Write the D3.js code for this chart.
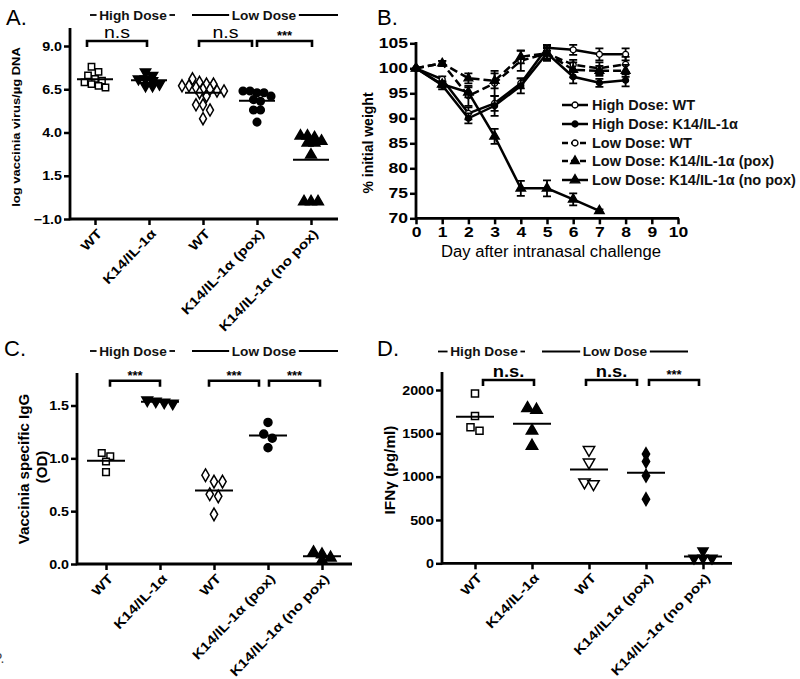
<!DOCTYPE html>
<html><head><meta charset="utf-8">
<script src="https://cdn.jsdelivr.net/npm/d3@7"></script>
<style>
body{margin:0;background:#fff;}
svg{font-family:"Liberation Sans",Arial,Helvetica,sans-serif;}
</style></head><body>
<svg id="c" width="800" height="679"></svg>
<script>
// ---------------- DATA ----------------
const catLabelsA = ["WT","K14/IL-1α","WT","K14/IL-1α (pox)","K14/IL-1α (no pox)"];
const catLabelsC = ["WT","K14/IL-1α","WT","K14/IL-1α (pox)","K14/IL-1α (no pox)"];
const catLabelsD = ["WT","K14/IL-1α","WT","K14/IL1α (pox)","K14/IL-1α (no pox)"];

// Panel A: log vaccinia virus/µg DNA
const aHighWT   = [7.8, 7.5, 7.3, 7.1, 7.0, 6.9, 6.8, 6.7, 6.6];
const aHighK14  = [7.5, 7.3, 7.1, 7.1, 7.0, 6.8, 6.7, 6.7];
const aLowWT    = [7.1, 6.9, 6.8, 6.8, 6.7, 6.7, 6.6, 6.5, 6.5, 6.4, 6.4, 6.3, 6.1, 5.6, 5.6, 5.3, 4.8];
const aLowPox   = [6.4, 6.4, 6.3, 6.3, 6.1, 5.9, 5.8, 5.3, 5.3, 4.6];
const aLowNoPox = [3.8, 3.8, 3.7, 3.5, 3.4, 3.4, 2.7, 0.0, 0.0, 0.0];
const aTicks = [-1.0, 1.5, 4.0, 6.5, 9.0];

// Panel B: % initial weight
const bDays = [0,1,2,3,4,5,6,7,8];
const bHighWT      = [100, 97.8, 91.0, 93.0, 97.0, 104.1, 103.7, 102.8, 102.8];
const bHighWTErr   = [0, 0.6, 1.2, 1.5, 1.0, 0.6, 1.0, 1.2, 1.2];
const bHighK14     = [100, 96.6, 90.0, 92.5, 96.5, 103.0, 98.3, 97.1, 97.6];
const bHighK14Err  = [0, 0.8, 1.0, 2.0, 1.5, 1.5, 1.3, 0.8, 1.2];
const bLowWT       = [100, 101.0, 94.5, 97.0, 101.5, 103.0, 100.7, 100.0, 100.8];
const bLowWTErr    = [0, 0.5, 2.0, 2.5, 2.0, 1.0, 1.0, 1.2, 1.5];
const bLowPox      = [100, 101.0, 98.0, 97.5, 102.3, 103.0, 99.7, 99.5, 99.5];
const bLowPoxErr   = [0, 0.5, 1.0, 1.5, 1.3, 1.2, 1.5, 1.0, 1.2];
const bNoPoxDays   = [0,1,2,3,4,5,6,7];
const bLowNoPox    = [100, 96.8, 95.2, 86.4, 76.0, 76.0, 73.8, 71.5];
const bLowNoPoxErr = [0, 0.6, 1.0, 1.5, 1.5, 1.6, 1.2, 0.3];
const bLegend = ["High Dose: WT","High Dose: K14/IL-1α","Low Dose: WT","Low Dose: K14/IL-1α (pox)","Low Dose: K14/IL-1α (no pox)"];
const bYTicks = [70,75,80,85,90,95,100,105];
const bXTicks = [0,1,2,3,4,5,6,7,8,9,10];

// Panel C: Vaccinia specific IgG (OD)
const cHighWT   = [1.05, 1.02, 0.97, 0.87];
const cHighK14  = [1.55, 1.54, 1.53, 1.52];
const cLowWT    = [0.84, 0.78, 0.78, 0.66, 0.64, 0.47];
const cLowPox   = [1.34, 1.23, 1.19, 1.10];
const cLowNoPox = [0.11, 0.09, 0.06, 0.03];
const cTicks = [0.0, 0.5, 1.0, 1.5];

// Panel D: IFNγ (pg/ml)
const dHighWT   = [1960, 1700, 1570, 1530];
const dHighK14  = [1790, 1770, 1530, 1355];
const dLowWT    = [1310, 1165, 935, 915];
const dLowPox   = [1260, 1175, 1010, 740];
const dLowNoPox = [142, 58, 58, 58];
const dTicks = [0, 500, 1000, 1500, 2000];

// ---------------- DRAWING ----------------
const svg = d3.select("#c");
const SYM = {square:d3.symbolSquare, circle:d3.symbolCircle, diamond:d3.symbolDiamond,
             tri:d3.symbolTriangle, inv:d3.symbolTriangle};

// widen text horizontally (source figure is stretched)
function stretch(sel, k){
  sel.each(function(){
    const w = this.getComputedTextLength();
    d3.select(this).attr("textLength", w*k).attr("lengthAdjust","spacingAndGlyphs");
  });
}

function dodge(values, y, size){
  const idx = values.map((v,i)=>i).sort((a,b)=>values[b]-values[a]);
  const rows=[]; let cur=null;
  idx.forEach(i=>{
    const py=y(values[i]);
    if(cur && Math.abs(py-cur.y0) < size*0.8) cur.items.push(i);
    else { cur={y0:py, items:[i]}; rows.push(cur); }
  });
  const off = new Array(values.length);
  rows.forEach(r=>{ const n=r.items.length; r.items.forEach((i,k)=>{ off[i]=(k-(n-1)/2)*size; }); });
  return off;
}

function styleAxis(g, fs, k){
  g.select(".domain").remove();
  g.selectAll(".tick line").attr("stroke","#000").attr("stroke-width",2.5);
  const t = g.selectAll(".tick text").attr("fill","#000").attr("font-weight","bold").attr("font-size",fs)
    .attr("font-family",'"Liberation Sans",Arial,sans-serif');
  if(k) stretch(t,k);
}

function doseHeader(g, x1, x2, cx, y, text){
  const t = g.append("text").attr("x",cx).attr("y",y).attr("text-anchor","middle")
    .attr("font-size",13).attr("font-weight","bold").attr("fill","#111").text(text);
  stretch(t,1.05);
  const w = t.node().getComputedTextLength()*1.05;
  g.append("line").attr("x1",x1).attr("x2",cx-w/2-1).attr("y1",y-4.5).attr("y2",y-4.5).attr("stroke","#000").attr("stroke-width",1.8);
  g.append("line").attr("x1",cx+w/2+1).attr("x2",x2).attr("y1",y-4.5).attr("y2",y-4.5).attr("stroke","#000").attr("stroke-width",1.8);
}

function bracket(g, x1, x2, y, leg, label, style){
  g.append("path").attr("d",`M${x1},${y+leg}V${y}H${x2}V${y+leg}`)
    .attr("fill","none").attr("stroke","#000").attr("stroke-width",2.6);
  const t = g.append("text").attr("x",(x1+x2)/2).attr("text-anchor","middle").attr("fill","#000").text(label);
  if(style==="stars") t.attr("y",y-1).attr("font-size",13).attr("font-weight","bold");
  else if(style==="nsA") { t.attr("y",y-3).attr("font-size",17); stretch(t,1.15); }
  else { t.attr("y",y-3).attr("font-size",17).attr("font-weight","bold"); stretch(t,1.08); }
}

function scatterPanel(o){
  const g = svg.append("g");
  const x = d3.scalePoint().domain(d3.range(o.labels.length)).range(o.xRange);
  const y = d3.scaleLinear().domain(o.yDomain).range(o.yRange);
  // axis lines
  g.append("line").attr("x1",o.axisX).attr("x2",o.axisX).attr("y1",o.axisTop).attr("y2",o.axisY+1.2)
    .attr("stroke","#000").attr("stroke-width",2.8);
  g.append("line").attr("x1",o.axisX).attr("x2",o.axisRight).attr("y1",o.axisY).attr("y2",o.axisY)
    .attr("stroke","#000").attr("stroke-width",2.8);
  g.append("g").attr("transform",`translate(${o.axisX},0)`)
    .call(d3.axisLeft(y).tickValues(o.yTicks).tickFormat(o.yFmt).tickSize(6).tickPadding(2))
    .call(s=>styleAxis(s,13,1.1));
  const xa = g.append("g").attr("transform",`translate(0,${o.axisY})`)
    .call(d3.axisBottom(x).tickFormat(i=>o.labels[i]).tickSize(6))
    .call(s=>styleAxis(s,13,1.2));
  xa.selectAll(".tick text").attr("x",0).attr("y",0).attr("dy",0)
    .attr("text-anchor","end").attr("dominant-baseline","middle")
    .attr("transform","translate(5,13) rotate(-46)");
  // groups
  o.groups.forEach((grp,i)=>{
    const off = dodge(grp.values, y, o.spacing);
    const sym = d3.symbol().type(SYM[grp.shape]).size(grp.size || o.symSize);
    g.append("g").selectAll("path").data(grp.values).join("path")
      .attr("d", sym)
      .attr("transform",(d,j)=>`translate(${x(i)+off[j]},${y(d)})${grp.shape==="inv"?" rotate(180)":""}`)
      .attr("fill", grp.filled ? "#000" : "#fff")
      .attr("stroke","#000").attr("stroke-width",1.5);
    const m = d3.mean(grp.values);
    g.append("line").attr("x1",x(i)-o.meanHalf).attr("x2",x(i)+o.meanHalf)
      .attr("y1",y(m)).attr("y2",y(m)).attr("stroke","#000").attr("stroke-width",2);
  });
  // brackets
  o.brackets.forEach(b=>{
    bracket(g, x(b[0])+b[2], x(b[1])+b[3], o.bracketY, 6, b[4], b[5]);
  });
  // y label
  o.ylab.forEach(l=>{
    const t = g.append("text").attr("transform",`translate(${l.x},${l.y}) rotate(-90)`).attr("text-anchor","middle")
      .attr("font-size",l.fs).attr("font-weight","bold").attr("fill","#000").text(l.t);
    stretch(t,l.k);
  });
  // header
  doseHeader(g, o.high[0], o.high[1], o.high[2], o.headY, "High Dose");
  doseHeader(g, o.low[0], o.low[1], o.low[2], o.headY, "Low Dose");
  g.append("text").attr("x",o.letter[0]).attr("y",o.letter[1]).attr("font-size",22).attr("fill","#000").text(o.letter[2]);
  return g;
}

// Panel A
scatterPanel({
  labels: catLabelsA, xRange:[95,311], yDomain:[-1,9], yRange:[219,46],
  axisX:70, axisTop:28, axisY:219, axisRight:338, yTicks:aTicks, yFmt:d3.format(".1f"),
  spacing:7.0, symSize:40, meanHalf:18,
  groups:[
    {values:aHighWT, shape:"square", filled:false},
    {values:aHighK14, shape:"inv", filled:true, size:46},
    {values:aLowWT, shape:"diamond", filled:false, size:42},
    {values:aLowPox, shape:"circle", filled:true, size:46},
    {values:aLowNoPox, shape:"tri", filled:true, size:50}
  ],
  bracketY:41,
  brackets:[[0,1,-8,-2,"n.s","nsA"],[2,3,-4,-5,"n.s","nsA"],[3,4,0,1,"***","stars"]],
  ylab:[{x:20,y:127,fs:11,k:1.18,t:"log vaccinia virus/µg DNA"}],
  headY:19.5, high:[90,175,133], low:[192,338,264],
  letter:[6,25,"A."]
});

// Panel C
scatterPanel({
  labels: catLabelsC, xRange:[106,322], yDomain:[0,1.5], yRange:[564,405.5],
  axisX:77, axisTop:373, axisY:564, axisRight:352, yTicks:cTicks, yFmt:d3.format(".1f"),
  spacing:8.5, symSize:44, meanHalf:19,
  groups:[
    {values:cHighWT, shape:"square", filled:false},
    {values:cHighK14, shape:"inv", filled:true, size:50},
    {values:cLowWT, shape:"diamond", filled:false, size:46},
    {values:cLowPox, shape:"circle", filled:true, size:50},
    {values:cLowNoPox, shape:"tri", filled:true, size:54}
  ],
  bracketY:380.7,
  brackets:[[0,1,4,0,"***","stars"],[2,3,-5,-9,"***","stars"],[3,4,1,-2,"***","stars"]],
  ylab:[{x:29,y:469,fs:14,k:1.08,t:"Vaccinia specific IgG"},{x:47,y:467,fs:14,k:1.08,t:"(OD)"}],
  headY:355.5, high:[90,175,133], low:[192,338,264],
  letter:[4,356,"C."]
});

// Panel D
scatterPanel({
  labels: catLabelsD, xRange:[475,703], yDomain:[0,2000], yRange:[563.3,390],
  axisX:442, axisTop:372, axisY:563.3, axisRight:732, yTicks:dTicks, yFmt:d3.format("d"),
  spacing:9, symSize:46, meanHalf:19,
  groups:[
    {values:dHighWT, shape:"square", filled:false, size:50},
    {values:dHighK14, shape:"tri", filled:true, size:56},
    {values:dLowWT, shape:"inv", filled:false, size:56},
    {values:dLowPox, shape:"diamond", filled:true, size:46},
    {values:dLowNoPox, shape:"inv", filled:true, size:44}
  ],
  bracketY:380,
  brackets:[[0,1,8,2,"n.s.","nsD"],[2,3,-3,-9,"n.s.","nsD"],[3,4,3,-4,"***","stars"]],
  ylab:[{x:395,y:470,fs:14,k:1.1,t:"IFNγ (pg/ml)"}],
  headY:356, high:[438,525,484], low:[542,688,615],
  letter:[377,356,"D."]
});

// Panel B
(function(){
  const g = svg.append("g");
  const x = d3.scaleLinear().domain([0,10]).range([416,678]);
  const y = d3.scaleLinear().domain([70,105]).range([218.3,43.3]);
  g.append("line").attr("x1",416).attr("x2",416).attr("y1",42).attr("y2",219.5).attr("stroke","#000").attr("stroke-width",2.8);
  g.append("line").attr("x1",416).attr("x2",679).attr("y1",218.3).attr("y2",218.3).attr("stroke","#000").attr("stroke-width",2.8);
  g.append("g").attr("transform","translate(416,0)")
    .call(d3.axisLeft(y).tickValues(bYTicks).tickSize(6).tickPadding(2)).call(s=>styleAxis(s,14,1.25));
  g.append("g").attr("transform","translate(0,218.3)")
    .call(d3.axisBottom(x).tickValues(bXTicks).tickFormat(d3.format("d")).tickSize(6).tickPadding(3)).call(s=>styleAxis(s,14,1.25));
  const xl = g.append("text").attr("x",551).attr("y",257).attr("text-anchor","middle").attr("font-size",16).attr("fill","#000")
    .text("Day after intranasal challenge");
  stretch(xl,1.04);
  const yl = g.append("text").attr("transform","translate(373,143) rotate(-90)").attr("text-anchor","middle")
    .attr("font-size",14).attr("font-weight","bold").attr("fill","#000").text("% initial weight");
  stretch(yl,1.0);
  g.append("text").attr("x",377).attr("y",25).attr("font-size",22).attr("fill","#000").text("B.");

  const series = [
    {days:bDays, v:bHighWT, e:bHighWTErr, dash:null, shape:"circle", fill:"#fff", size:28},
    {days:bDays, v:bHighK14, e:bHighK14Err, dash:null, shape:"circle", fill:"#000", size:28},
    {days:bDays, v:bLowWT, e:bLowWTErr, dash:"8,4", shape:"circle", fill:"#fff", size:28},
    {days:bDays, v:bLowPox, e:bLowPoxErr, dash:"8,4", shape:"tri", fill:"#000", size:34},
    {days:bNoPoxDays, v:bLowNoPox, e:bLowNoPoxErr, dash:null, shape:"tri", fill:"#000", size:40}
  ];
  const line = d3.line().x(d=>x(d[0])).y(d=>y(d[1]));
  series.forEach(s=>{
    const pts = s.days.map((d,i)=>[d,s.v[i],s.e[i]]);
    const sg = g.append("g");
    sg.append("path").attr("d",line(pts)).attr("fill","none").attr("stroke","#000").attr("stroke-width",2.5)
      .attr("stroke-dasharray",s.dash);
    pts.filter(p=>p[2]>0).forEach(p=>{
      const xx=x(p[0]), y1=y(p[1]-p[2]), y2=y(p[1]+p[2]);
      sg.append("path").attr("d",`M${xx},${y1}V${y2}M${xx-4},${y1}H${xx+4}M${xx-4},${y2}H${xx+4}`)
        .attr("stroke","#000").attr("stroke-width",1.8).attr("fill","none");
    });
    sg.selectAll(".m").data(pts).join("path").attr("d",d3.symbol().type(SYM[s.shape]).size(s.size))
      .attr("transform",d=>`translate(${x(d[0])},${y(d[1])})`)
      .attr("fill",s.fill).attr("stroke","#000").attr("stroke-width",1.3);
  });
  // legend
  const ly = [105,124,143,161,180];
  series.forEach((s,i)=>{
    g.append("line").attr("x1",562).attr("x2",588).attr("y1",ly[i]).attr("y2",ly[i])
      .attr("stroke","#000").attr("stroke-width",2.5).attr("stroke-dasharray",s.dash?"6,3":null);
    g.append("path").attr("d",d3.symbol().type(SYM[s.shape]).size(s.size)())
      .attr("transform",`translate(575,${ly[i]})`).attr("fill",s.fill).attr("stroke","#000").attr("stroke-width",1.3);
    g.append("text").attr("x",592).attr("y",ly[i]+5).attr("font-size",14.5).attr("font-weight","bold")
      .attr("fill","#111").text(bLegend[i]);
  });
})();

svg.append("text").attr("x",-7).attr("y",663).attr("font-size",14).attr("fill","#444").text("P.");
</script>
</body></html>
